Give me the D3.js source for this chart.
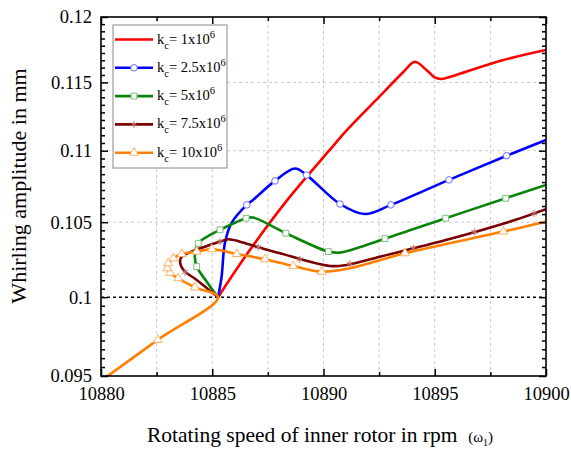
<!DOCTYPE html>
<html>
<head>
<meta charset="utf-8">
<script src="https://cdn.jsdelivr.net/npm/d3@7"></script>
<style>
  body { margin: 0; background: #fff; }
  svg { display: block; }
</style>
</head>
<body>
<div id="chart"></div>
<script>
// series values: [rpm, whirling amplitude in mm]
const seriesLabels = ["1", "2.5", "5", "7.5", "10"];

const red = [
  [10885.26, 0.1000], [10886.5, 0.10272], [10888.36, 0.1065], [10890.25, 0.1100],
  [10891.06, 0.1115], [10892.5, 0.11392], [10893.6, 0.1158], [10894.1, 0.11655],
  [10894.65, 0.1159], [10895.0, 0.11538], [10895.3, 0.11526], [10896.0, 0.11558],
  [10898.0, 0.11665], [10900.0, 0.11745]
];
const blue = [
  [10885.26, 0.1000], [10885.42, 0.10134], [10885.57, 0.10359], [10885.87, 0.10495],
  [10886.55, 0.10619], [10886.83, 0.10653], [10887.82, 0.10786], [10888.72, 0.10873],
  [10889.24, 0.10827], [10890.74, 0.10625], [10891.87, 0.10556], [10893.03, 0.10619],
  [10895.64, 0.10793], [10898.23, 0.10964], [10900.0, 0.11077]
];
const green = [
  [10885.26, 0.1000], [10884.76, 0.1010], [10884.30, 0.10201], [10884.22, 0.10278],
  [10884.37, 0.10357], [10884.90, 0.10413], [10885.35, 0.10448], [10886.52, 0.10527],
  [10886.83, 0.10532], [10888.31, 0.10425], [10890.22, 0.10301], [10890.74, 0.10294],
  [10892.76, 0.10388], [10895.49, 0.10527], [10898.19, 0.10665], [10900.0, 0.10758]
];
const brown = [
  [10885.26, 0.1000], [10884.30, 0.10113], [10883.70, 0.10178], [10883.55, 0.10234],
  [10883.63, 0.10267], [10883.97, 0.10294], [10884.45, 0.10323], [10885.35, 0.10368],
  [10885.72, 0.10384], [10886.25, 0.10368], [10887.0, 0.10334], [10888.04, 0.1029],
  [10890.29, 0.10205], [10891.04, 0.10212], [10892.54, 0.10267], [10895.54, 0.1038],
  [10898.53, 0.10511], [10900.0, 0.10589]
];
const orange = [
  [10880.0, 0.0947], [10882.55, 0.09726], [10885.26, 0.1000], [10884.22, 0.10064],
  [10883.47, 0.10124], [10883.10, 0.1016], [10882.98, 0.1019], [10883.02, 0.10223],
  [10883.25, 0.10256], [10883.63, 0.10285], [10884.30, 0.10301], [10884.98, 0.10317],
  [10886.10, 0.10285], [10887.37, 0.1025], [10888.64, 0.10205], [10889.92, 0.10167],
  [10891.19, 0.1019], [10893.66, 0.1029], [10898.08, 0.10436], [10900.0, 0.10504]
];

// marker positions along each curve
const blueMarks = [
  [10886.55, 0.10619], [10887.82, 0.10786], [10889.24, 0.10827], [10890.74, 0.10625],
  [10893.03, 0.10619], [10895.64, 0.10793], [10898.23, 0.10964]
];
const greenMarks = [
  [10884.30, 0.10201], [10884.37, 0.10357], [10885.35, 0.10448], [10886.52, 0.10527],
  [10888.31, 0.10425], [10890.22, 0.10301], [10892.76, 0.10388], [10895.49, 0.10527],
  [10898.19, 0.10665]
];
const brownMarks = [
  [10883.78, 0.10165], [10885.35, 0.10368], [10887.07, 0.10331], [10888.94, 0.10248],
  [10891.19, 0.10220], [10894.04, 0.10324], [10896.78, 0.10434], [10899.46, 0.1056]
];
const orangeMarks = [
  [10882.55, 0.09726], [10884.22, 0.10064], [10883.47, 0.10124], [10883.10, 0.1016],
  [10882.98, 0.1019], [10883.02, 0.10223], [10883.25, 0.10256], [10883.63, 0.10285],
  [10884.30, 0.10301], [10884.98, 0.10317], [10886.10, 0.10285], [10887.37, 0.1025],
  [10888.64, 0.10205], [10889.92, 0.10167], [10893.66, 0.1029], [10898.08, 0.10436]
];

const xTicks = [10880, 10885, 10890, 10895, 10900];
const xMinor = [10882.5, 10887.5, 10892.5, 10897.5];
const yTicks = [0.095, 0.1, 0.105, 0.11, 0.115, 0.12];
const yTickLabels = ["0.095", "0.1", "0.105", "0.11", "0.115", "0.12"];

const W = 571, H = 451;
const margin = { left: 101, right: 25, top: 17, bottom: 75 };
const serif = "'Liberation Serif', 'Times New Roman', serif";

const svg = d3.select("#chart").append("svg")
  .attr("width", W).attr("height", H);

const x = d3.scaleLinear().domain([10880, 10900]).range([margin.left, W - margin.right]);
const y = d3.scaleLog().domain([0.095, 0.12]).range([H - margin.bottom, margin.top]);

// minor y ticks: 8 between each pair of majors
const yMinor = [];
for (let i = 0; i < yTicks.length - 1; i++) {
  for (let k = 1; k < 9; k++) yMinor.push(yTicks[i] + (yTicks[i + 1] - yTicks[i]) * k / 9);
}

// grid
const grid = svg.append("g");
grid.selectAll(".gx").data(xMinor.concat(xTicks.slice(1, -1)))
  .join("line")
  .attr("x1", d => x(d)).attr("x2", d => x(d))
  .attr("y1", y(0.095)).attr("y2", y(0.12))
  .attr("stroke", "#c8c8c8").attr("stroke-width", 1).attr("stroke-dasharray", "3,3");
grid.selectAll(".gy").data([0.105, 0.11, 0.115])
  .join("line")
  .attr("x1", x(10880)).attr("x2", x(10900))
  .attr("y1", d => y(d)).attr("y2", d => y(d))
  .attr("stroke", "#c8c8c8").attr("stroke-width", 1).attr("stroke-dasharray", "3,3");
svg.append("line")
  .attr("x1", x(10880)).attr("x2", x(10900))
  .attr("y1", y(0.1)).attr("y2", y(0.1))
  .attr("stroke", "#000").attr("stroke-width", 1.5).attr("stroke-dasharray", "3,3");

// curves
svg.append("clipPath").attr("id", "clip").append("rect")
  .attr("x", x(10880)).attr("y", y(0.12))
  .attr("width", x(10900) - x(10880)).attr("height", y(0.095) - y(0.12));

const line = d3.line()
  .x(d => x(d[0])).y(d => y(d[1]))
  .curve(d3.curveCatmullRom.alpha(0.5));

const plot = svg.append("g").attr("clip-path", "url(#clip)");

const series = [
  { data: red, marks: [], color: "#ff0000", mark: null, mcol: null },
  { data: blue, marks: blueMarks, color: "#0000ff", mark: d3.symbolCircle, mcol: "#6a6aff" },
  { data: green, marks: greenMarks, color: "#0a840a", mark: d3.symbolSquare, mcol: "#7cc07c" },
  { data: brown, marks: brownMarks, color: "#7a0000", mark: d3.symbolAsterisk, mcol: "#c07070" },
  { data: orange, marks: orangeMarks, color: "#ff8000", mark: d3.symbolTriangle, mcol: "#ffb060" }
];

series.forEach(s => {
  plot.append("path")
    .datum(s.data)
    .attr("fill", "none")
    .attr("stroke", s.color)
    .attr("stroke-width", 2.6)
    .attr("stroke-linejoin", "round")
    .attr("d", line);
  if (s.mark) {
    plot.selectAll(null).data(s.marks)
      .join("path")
      .attr("transform", d => `translate(${x(d[0])},${y(d[1])})`)
      .attr("d", d3.symbol(s.mark, 34))
      .attr("fill", s.mark === d3.symbolAsterisk ? "none" : "#fff")
      .attr("stroke", s.mcol)
      .attr("stroke-width", 1);
  }
});

// axes (ticks point inward)
const fontAxis = g => g.selectAll("text")
  .attr("font-family", serif).attr("font-size", "18.5px").attr("fill", "#000");

svg.append("g")
  .attr("transform", `translate(0,${y(0.095)})`)
  .call(d3.axisBottom(x).tickValues(xTicks).tickFormat(d3.format("d"))
    .tickSize(-7).tickSizeOuter(0).tickPadding(11))
  .call(fontAxis)
  .call(g => g.select(".domain").remove());
svg.append("g")
  .attr("transform", `translate(0,${y(0.095)})`)
  .call(d3.axisBottom(x).tickValues(xMinor).tickFormat("").tickSize(-4).tickSizeOuter(0))
  .call(g => g.select(".domain").remove());
svg.append("g")
  .attr("transform", `translate(0,${y(0.12)})`)
  .call(d3.axisTop(x).tickValues(xTicks).tickFormat("").tickSize(-7).tickSizeOuter(0))
  .call(g => g.select(".domain").remove());
svg.append("g")
  .attr("transform", `translate(0,${y(0.12)})`)
  .call(d3.axisTop(x).tickValues(xMinor).tickFormat("").tickSize(-4).tickSizeOuter(0))
  .call(g => g.select(".domain").remove());

svg.append("g")
  .attr("transform", `translate(${x(10880)},0)`)
  .call(d3.axisLeft(y).tickValues(yTicks).tickFormat((d, i) => yTickLabels[i])
    .tickSize(-7).tickSizeOuter(0).tickPadding(9))
  .call(fontAxis)
  .call(g => g.select(".domain").remove());
svg.append("g")
  .attr("transform", `translate(${x(10880)},0)`)
  .call(d3.axisLeft(y).tickValues(yMinor).tickFormat("").tickSize(-4).tickSizeOuter(0))
  .call(g => g.select(".domain").remove());
svg.append("g")
  .attr("transform", `translate(${x(10900)},0)`)
  .call(d3.axisRight(y).tickValues(yTicks).tickFormat("").tickSize(-7).tickSizeOuter(0))
  .call(g => g.select(".domain").remove());
svg.append("g")
  .attr("transform", `translate(${x(10900)},0)`)
  .call(d3.axisRight(y).tickValues(yMinor).tickFormat("").tickSize(-4).tickSizeOuter(0))
  .call(g => g.select(".domain").remove());

svg.selectAll(".tick line").attr("stroke", "#000").attr("stroke-width", 1.5);

svg.append("rect")
  .attr("x", x(10880)).attr("y", y(0.12))
  .attr("width", x(10900) - x(10880)).attr("height", y(0.095) - y(0.12))
  .attr("fill", "none").attr("stroke", "#000").attr("stroke-width", 1.6);

// axis titles
const xt = svg.append("text")
  .attr("x", 320).attr("y", 442)
  .attr("text-anchor", "middle")
  .attr("font-family", serif).attr("font-size", "21.5px").attr("fill", "#000");
xt.append("tspan").text("Rotating speed of inner rotor in rpm\u2002");
xt.append("tspan").attr("font-size", "15px").text("(\u03c9");
xt.append("tspan").attr("font-size", "10px").attr("dy", 4).text("1");
xt.append("tspan").attr("font-size", "15px").attr("dy", -4).text(")");

svg.append("text")
  .attr("transform", "translate(26,186) rotate(-90)")
  .attr("text-anchor", "middle")
  .attr("font-family", serif).attr("font-size", "22px").attr("fill", "#000")
  .text("Whirling amplitude in mm");

// legend
const legend = svg.append("g");
legend.append("rect")
  .attr("x", 113).attr("y", 25).attr("width", 114).attr("height", 143)
  .attr("fill", "#fff").attr("stroke", "#888").attr("stroke-width", 1);

const items = legend.selectAll(".legend-item")
  .data(series)
  .join("g")
  .attr("class", "legend-item")
  .attr("transform", (d, i) => `translate(115, ${39.5 + i * 28.3})`);

items.append("line")
  .attr("x1", 0).attr("x2", 38)
  .attr("stroke", d => d.color).attr("stroke-width", 2.6);

items.filter(d => d.mark).append("path")
  .attr("transform", "translate(19,0)")
  .attr("d", d => d3.symbol(d.mark, 34)())
  .attr("fill", d => d.mark === d3.symbolAsterisk ? "none" : "#fff")
  .attr("stroke", d => d.mcol).attr("stroke-width", 1);

const lt = items.append("text")
  .attr("x", 42).attr("y", 4)
  .attr("font-family", serif).attr("font-size", "14.5px").attr("fill", "#000");
lt.append("tspan").text("k");
lt.append("tspan").attr("font-size", "10.5px").attr("dy", 5).text("c");
lt.append("tspan").attr("dy", -5).text((d, i) => `= ${seriesLabels[i]}x10`);
lt.append("tspan").attr("font-size", "10.5px").attr("dy", -6).text("6");
</script>
</body>
</html>
